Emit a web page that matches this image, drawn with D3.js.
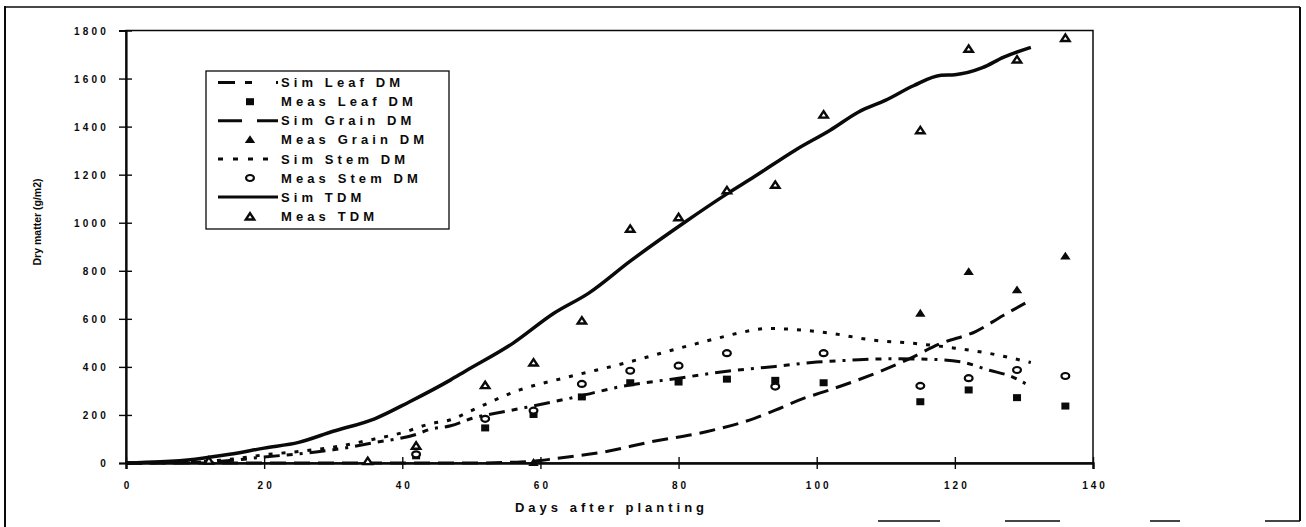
<!DOCTYPE html>
<html>
<head>
<meta charset="utf-8">
<script src="https://cdn.jsdelivr.net/npm/d3@7"></script>
<style>
  body { margin: 0; background: #fff; }
  svg { display: block; font-family: "Liberation Sans", Arial, sans-serif; font-weight: bold; }
</style>
</head>
<body>
<svg id="chart" width="1306" height="527"></svg>
<script>
// ---- simulated series (days after planting, g/m2) ----
const simLeafDays = [0, 10, 15, 20, 25, 30, 36, 42, 44, 47, 50, 55, 58, 65, 72, 79, 88, 94, 100, 105, 111, 116, 121, 125, 128, 131];
const simLeafDM   = [0, 3, 10, 25, 38, 55, 85, 119, 140, 155, 185, 215, 232, 274, 320, 349, 385, 402, 420, 428, 434, 432, 420, 386, 362, 318];

const simGrainDays = [0, 50, 56, 60, 62, 69, 76, 84, 91, 94, 98, 101, 106, 113, 118, 123, 127, 131];
const simGrainDM   = [0, 0, 3, 10, 18, 45, 88, 130, 186, 220, 268, 296, 346, 428, 498, 547, 614, 678];

const simStemDays = [0, 10, 15, 20, 25, 30, 36, 40, 44, 47, 50, 57, 64, 72, 80, 86, 89, 93, 97, 102, 108, 114, 120, 125, 131];
const simStemDM   = [0, 5, 15, 34, 48, 66, 100, 126, 163, 180, 218, 304, 358, 414, 477, 522, 543, 560, 555, 540, 512, 498, 478, 456, 418];

const simTdmDays = [0, 5, 10, 15, 20, 25, 30, 36, 41, 47, 49, 56, 62, 67, 73, 81, 87, 91, 97, 102, 106, 110, 114, 118, 120, 124, 127, 131];
const simTdmDM   = [0, 5, 16, 36, 62, 86, 132, 184, 254, 346, 380, 498, 624, 707, 840, 1004, 1120, 1192, 1304, 1386, 1460, 1510, 1570, 1614, 1616, 1645, 1688, 1730];

// ---- measured series ----
const measDays  = [12, 35, 42, 52, 59, 66, 73, 80, 87, 94, 101, 115, 122, 129, 136];
const measLeaf  = [null, null, 30, 146, 202, 275, 334, 337, 349, 344, 334, 255, 304, 272, 237];
const measGrain = [null, null, null, null, 3, null, null, null, null, null, null, 624, 797, 721, 862];
const measStem  = [null, null, 36, 184, 218, 329, 384, 405, 457, 318, 457, 321, 353, 387, 362];
const measTDM   = [10, 8, 72, 324, 418, 593, 975, 1023, 1135, 1158, 1450, 1385, 1724, 1679, 1769];

// ---- axes ----
const xTicks = [0, 20, 40, 60, 80, 100, 120, 140];
const yTicks = [0, 200, 400, 600, 800, 1000, 1200, 1400, 1600, 1800];
const xTitle = "Days after planting";
const yTitle = "Dry matter (g/m2)";

const legendLabels = ["Sim Leaf DM", "Meas Leaf DM", "Sim Grain DM", "Meas Grain DM",
                      "Sim Stem DM", "Meas Stem DM", "Sim TDM", "Meas TDM"];

const INK = "#0a0a0a";
const FONT = "'Liberation Sans', Arial, sans-serif";
const svg = d3.select("#chart");

const x = d3.scaleLinear().domain([0, 140]).range([126, 1093]);
const y = d3.scaleLinear().domain([0, 1800]).range([463, 30.5]);

// outer page frame
const frame = svg.append("g").attr("stroke", INK).attr("fill", "none");
frame.append("line").attr("x1", 5).attr("y1", 6).attr("x2", 5).attr("y2", 527).attr("stroke-width", 2);
frame.append("line").attr("x1", 5).attr("y1", 7).attr("x2", 1300).attr("y2", 7).attr("stroke-width", 1.6);
frame.append("line").attr("x1", 1300).attr("y1", 7).attr("x2", 1300).attr("y2", 521).attr("stroke-width", 2);
frame.append("line").attr("x1", 878).attr("y1", 521).attr("x2", 1300).attr("y2", 521)
  .attr("stroke-width", 1.6).attr("stroke-dasharray", "62,65,55,90,30,85,35");

// plot area border
svg.append("rect")
  .attr("x", x(0)).attr("y", y(1800))
  .attr("width", x(140) - x(0)).attr("height", y(0) - y(1800))
  .attr("fill", "none").attr("stroke", INK).attr("stroke-width", 1.5);

// x axis
const gx = svg.append("g")
  .attr("transform", `translate(0,${y(0)})`)
  .call(d3.axisBottom(x).tickValues(xTicks).tickFormat(d3.format("d")).tickSizeOuter(0).tickSize(6));
gx.select(".domain").attr("stroke", INK).attr("stroke-width", 2.4);
gx.selectAll(".tick line").attr("y1", -6).attr("y2", 6).attr("stroke", INK).attr("stroke-width", 1.4);
gx.selectAll(".tick text")
  .attr("y", 26).attr("dy", 0).attr("dx", 1.5)
  .attr("fill", INK).style("font-size", "10px").style("letter-spacing", "3px")
  .style("font-family", FONT).style("font-weight", "bold");

// y axis
const gy = svg.append("g")
  .attr("transform", `translate(${x(0)},0)`)
  .call(d3.axisLeft(y).tickValues(yTicks).tickFormat(d3.format("d")).tickSizeOuter(0).tickSize(7));
gy.select(".domain").attr("stroke", INK).attr("stroke-width", 2.2);
gy.selectAll(".tick line").attr("x1", 6).attr("x2", -7).attr("stroke", INK).attr("stroke-width", 1.4);
gy.selectAll(".tick text")
  .attr("x", -17).attr("dy", "0.35em")
  .attr("fill", INK).style("font-size", "10px").style("letter-spacing", "3.2px")
  .style("font-family", FONT).style("font-weight", "bold");

// axis titles
svg.append("text")
  .attr("x", (x(0) + x(140)) / 2 + 2).attr("y", 512)
  .attr("text-anchor", "middle").attr("fill", INK)
  .style("font-size", "13px").style("letter-spacing", "4px")
  .text(xTitle);

svg.append("text")
  .attr("transform", "translate(41,222) rotate(-90)")
  .attr("text-anchor", "middle").attr("fill", INK)
  .style("font-size", "10.5px")
  .text(yTitle);

// simulated lines
const simSeries = [
  { days: simGrainDays, vals: simGrainDM, dash: "16,8" },
  { days: simStemDays,  vals: simStemDM,  dash: "4,9" },
  { days: simLeafDays,  vals: simLeafDM,  dash: "16,7,6,7,3,7" },
  { days: simTdmDays,   vals: simTdmDM,   dash: null }
];
const line = d3.line()
  .x(d => x(d[0])).y(d => y(d[1]))
  .curve(d3.curveMonotoneX);

simSeries.forEach(s => {
  const pts = s.days.map((d, i) => [d, s.vals[i]]);
  svg.append("path")
    .datum(pts)
    .attr("d", line)
    .attr("fill", "none").attr("stroke", INK)
    .attr("stroke-width", s.dash ? 3 : 3.5)
    .attr("stroke-dasharray", s.dash);
});

// marker drawing helpers
function square(g, cx, cy) {
  g.append("rect").attr("x", cx - 4).attr("y", cy - 3.5).attr("width", 8).attr("height", 7).attr("fill", INK);
}
function triFilled(g, cx, cy) {
  g.append("path").attr("d", `M${cx - 5.2},${cy + 3.6}L${cx + 5.2},${cy + 3.6}L${cx},${cy - 4.2}Z`).attr("fill", INK);
}
function triOpen(g, cx, cy) {
  g.append("path").attr("d", `M${cx - 4.2},${cy + 3}L${cx + 4.2},${cy + 3}L${cx},${cy - 3.4}Z`)
    .attr("fill", "#fff").attr("stroke", INK).attr("stroke-width", 2.4).attr("stroke-linejoin", "miter");
}
function circ(g, cx, cy) {
  g.append("ellipse").attr("cx", cx).attr("cy", cy).attr("rx", 3.9).attr("ry", 3)
    .attr("fill", "#fff").attr("stroke", INK).attr("stroke-width", 2.2);
}

const markers = svg.append("g");
const measSeries = [
  { vals: measLeaf, draw: square },
  { vals: measGrain, draw: triFilled },
  { vals: measStem, draw: circ },
  { vals: measTDM, draw: triOpen }
];
measSeries.forEach(s => {
  measDays.forEach((d, i) => {
    if (s.vals[i] != null) s.draw(markers, x(d), y(s.vals[i]));
  });
});

// legend
const lg = svg.append("g");
lg.append("rect").attr("x", 206).attr("y", 71).attr("width", 243).attr("height", 158)
  .attr("fill", "#fff").attr("stroke", INK).attr("stroke-width", 1.3);
const rowY = [82.5, 101.7, 120.7, 139.5, 159, 178, 197, 216.5];
const legendKeys = [
  { type: "line", dash: "17,10,7,24,2" },
  { type: "mark", draw: square },
  { type: "line", dash: "24,15,21" },
  { type: "mark", draw: triFilled },
  { type: "line", dash: "5,10" },
  { type: "mark", draw: circ },
  { type: "line", dash: null },
  { type: "mark", draw: triOpen }
];
legendKeys.forEach((k, i) => {
  const cy = rowY[i];
  if (k.type === "line") {
    lg.append("line").attr("x1", 218).attr("x2", 278).attr("y1", cy).attr("y2", cy)
      .attr("stroke", INK).attr("stroke-width", 3).attr("stroke-dasharray", k.dash);
  } else {
    k.draw(lg, 250, cy);
  }
  lg.append("text").attr("x", 281).attr("y", cy).attr("dy", "0.36em")
    .attr("fill", INK).style("font-size", "13px").style("letter-spacing", "4.1px")
    .text(legendLabels[i]);
});
</script>
</body>
</html>
